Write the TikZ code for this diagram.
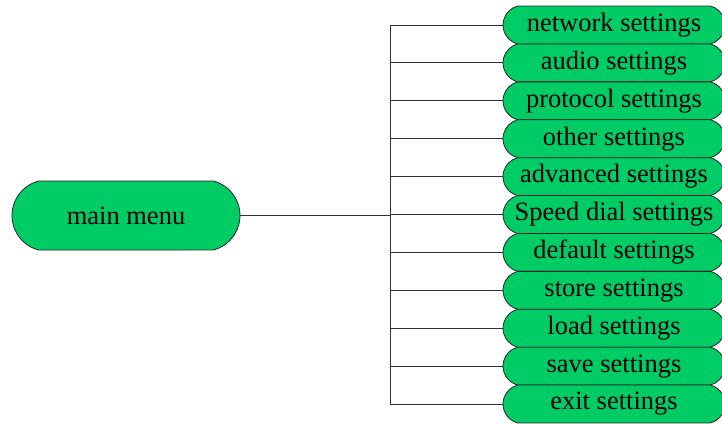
\documentclass[tikz,border=0pt]{standalone}
\usepackage{fontspec}
\setmainfont{Liberation Serif}
\usetikzlibrary{shapes.misc}
\definecolor{boxgreen}{RGB}{0,204,102}
\tikzset{
  itembox/.style={rounded rectangle, rounded rectangle arc length=150, draw=black!85, line width=0.8pt, fill=boxgreen,
    minimum width=222pt, minimum height=37.9pt, inner sep=0pt, font=\fontsize{26.5}{28}\selectfont},
  mainbox/.style={rounded rectangle, rounded rectangle arc length=150, draw=black!85, line width=0.8pt, fill=boxgreen,
    minimum width=228pt, minimum height=69pt, inner sep=0pt, font=\fontsize{26.5}{28}\selectfont},
  wire/.style={draw=black!80, line width=0.9pt}
}
\begin{document}
\begin{tikzpicture}[x=1pt,y=-1pt]
\useasboundingbox (0,0) rectangle (722,423);
\node[mainbox] (main) at (126,215.5) {main menu};
\coordinate (top) at (390,25);
\coordinate (bot) at (390,404);
\coordinate (mid) at (390,215.5);
\foreach \name/\txt [count=\i from 0] in {net/network settings,aud/audio settings,pro/protocol settings,oth/other settings,adv/advanced settings,spd/Speed dial settings,def/default settings,sto/store settings,loa/load settings,sav/save settings,exi/exit settings}{
  \coordinate (j\name) at (390,{25+37.9*\i});
  \draw[wire] (j\name) -- (503,{25+37.9*\i});
}
\draw[wire] (top) -- (bot);
\draw[wire] (main.east) -- (mid);
\foreach \name/\txt [count=\i from 0] in {net/network settings,aud/audio settings,pro/protocol settings,oth/other settings,adv/advanced settings,spd/Speed dial settings,def/default settings,sto/store settings,loa/load settings,sav/save settings,exi/exit settings}{
  \node[itembox] (\name) at (614,{25+37.9*\i}) {\txt};
}
\end{tikzpicture}
\end{document}
